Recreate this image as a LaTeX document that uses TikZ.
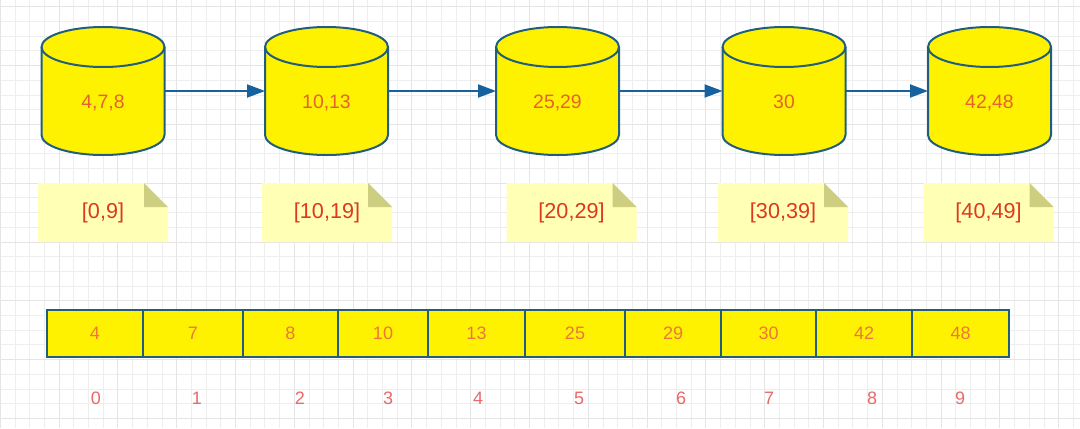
\documentclass[tikz,border=0pt]{standalone}
\usepackage{fontspec}
\setmainfont{Liberation Sans}
\usetikzlibrary{arrows.meta,positioning}
\definecolor{dbline}{RGB}{32,94,124}
\definecolor{dbtext}{RGB}{230,98,44}
\definecolor{linkblue}{RGB}{22,98,158}
\definecolor{notefill}{RGB}{255,255,181}
\definecolor{notefold}{RGB}{206,206,128}
\definecolor{notetext}{RGB}{222,56,34}
\definecolor{celltext}{RGB}{238,118,58}
\definecolor{idxtext}{RGB}{232,104,104}
\definecolor{gridminor}{RGB}{238,238,238}
\definecolor{gridmajor}{RGB}{229,229,229}
\tikzset{
	dbshape/.style={draw=dbline, line width=1pt, fill=yellow},
	db/.style={minimum width=61.5pt, minimum height=64pt, inner sep=0pt, outer sep=0pt,
		text height=17.6pt, text depth=0pt,
		text=dbtext, font=\fontsize{9.7}{11}\selectfont},
	link/.style={draw=linkblue, line width=1pt, -{Triangle[length=9pt,width=6.5pt]}},
	note/.style={minimum width=65pt, minimum height=29.5pt, inner sep=0pt,
		text=notetext, font=\fontsize{10.8}{12}\selectfont,
		path picture={
			\fill[notefill] (path picture bounding box.south west) -- (path picture bounding box.north west)
				-- ([xshift=-12pt]path picture bounding box.north east)
				-- ([yshift=-12pt]path picture bounding box.north east)
				-- (path picture bounding box.south east) -- cycle;
			\fill[notefold] ([xshift=-12pt]path picture bounding box.north east)
				-- ([xshift=-12pt,yshift=-12pt]path picture bounding box.north east)
				-- ([yshift=-12pt]path picture bounding box.north east) -- cycle;
		}},
	cell/.style={draw=dbline, line width=1.25pt, fill=yellow, minimum height=23.5pt,
		inner sep=0pt, outer sep=0pt, text=celltext, font=\fontsize{9}{11}\selectfont},
	idx/.style={text=idxtext, font=\fontsize{9}{11}\selectfont},
}
\begin{document}
\begin{tikzpicture}[x=0.5pt, y=-0.5pt]
	\useasboundingbox (0,0) rectangle (1080,428);
	% Grid
	\foreach \k in {0,...,73} \draw[gridminor, line width=0.5pt] ({0.3+14.7*\k},0) -- ({0.3+14.7*\k},428);
	\foreach \k in {0,...,28} \draw[gridminor, line width=0.5pt] (0,{6.8+14.7*\k}) -- (1080,{6.8+14.7*\k});
	\foreach \k in {0,4,...,72} \draw[gridmajor, line width=0.5pt] ({0.3+14.7*\k},0) -- ({0.3+14.7*\k},428);
	\foreach \k in {0,4,...,28} \draw[gridmajor, line width=0.5pt] (0,{6.8+14.7*\k}) -- (1080,{6.8+14.7*\k});
	% Bucket cylinders
	\foreach \bx in {103,326.5,557.5,784,989.5} {
		\draw[dbshape] (\bx-61.5,47) -- (\bx-61.5,135) arc[start angle=180, end angle=360, x radius=30.75pt, y radius=10pt]
			-- (\bx+61.5,47) arc[start angle=0, end angle=180, x radius=30.75pt, y radius=10pt] -- cycle;
		\draw[dbshape, fill=none] (\bx-61.5,47) arc[start angle=180, end angle=360, x radius=30.75pt, y radius=10pt];
	}
	% Buckets
	\node[db] (B1) at (103,91) {4,7,8};
	\node[db] (B2) at (326.5,91) {10,13};
	\node[db] (B3) at (557.5,91) {25,29};
	\node[db] (B4) at (784,91) {30};
	\node[db] (B5) at (989.5,91) {42,48};
	% Ranges
	\node[note] (R1) at (103,212.5) {[0,9]};
	\node[note] (R2) at (327,212.5) {[10,19]};
	\node[note] (R3) at (571.5,212.5) {[20,29]};
	\node[note] (R4) at (783,212.5) {[30,39]};
	\node[note] (R5) at (988.5,212.5) {[40,49]};
	% Connections
	\draw[link] (B1.east) -- (B2.west);
	\draw[link] (B2.east) -- (B3.west);
	\draw[link] (B3.east) -- (B4.west);
	\draw[link] (B4.east) -- (B5.west);
	% Sorted array
	\node[cell, minimum width=48pt, anchor=west] (A0) at (47,333.5) {4};
	\node[cell, minimum width=50pt, right=0pt of A0] (A1) {7};
	\node[cell, minimum width=47.5pt, right=0pt of A1] (A2) {8};
	\node[cell, minimum width=45pt, right=0pt of A2] (A3) {10};
	\node[cell, minimum width=48.5pt, right=0pt of A3] (A4) {13};
	\node[cell, minimum width=50pt, right=0pt of A4] (A5) {25};
	\node[cell, minimum width=48pt, right=0pt of A5] (A6) {29};
	\node[cell, minimum width=47.5pt, right=0pt of A6] (A7) {30};
	\node[cell, minimum width=48pt, right=0pt of A7] (A8) {42};
	\node[cell, minimum width=48.5pt, right=0pt of A8] (A9) {48};
	%% Indices
	\node[idx] (I0) at (96,398) {0};
	\node[idx] (I1) at (197,398) {1};
	\node[idx] (I2) at (300,398) {2};
	\node[idx] (I3) at (388,398) {3};
	\node[idx] (I4) at (478,398) {4};
	\node[idx] (I5) at (579,398) {5};
	\node[idx] (I6) at (681,398) {6};
	\node[idx] (I7) at (769,398) {7};
	\node[idx] (I8) at (872,398) {8};
	\node[idx] (I9) at (960,398) {9};
\end{tikzpicture}
\end{document}
